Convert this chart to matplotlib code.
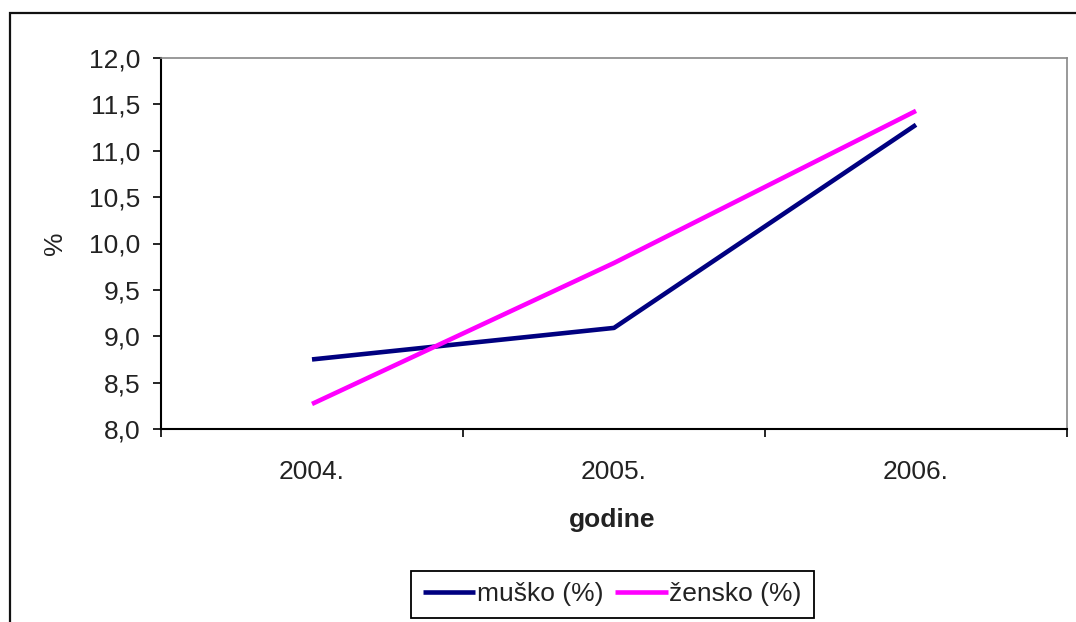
import matplotlib
matplotlib.use("Agg")
import matplotlib.pyplot as plt
from matplotlib.patches import Rectangle
from matplotlib.ticker import FuncFormatter, FixedLocator

plt.rcParams['font.family'] = ['Liberation Sans', 'DejaVu Sans']

# data
years = ['2004.', '2005.', '2006.']
musko = [8.75, 9.09, 11.28]
zensko = [8.27, 9.79, 11.43]

fs = 19

fig = plt.figure(figsize=(10.76, 6.22), dpi=100)
ax = fig.add_axes([161 / 1076, 1 - 429 / 622, 906 / 1076, 371 / 622])

x = list(range(len(years)))
ax.plot(x, musko, color='#000080', lw=3.3, label='muško (%)', solid_capstyle='butt')
ax.plot(x, zensko, color='#FF00FF', lw=3.3, label='žensko (%)', solid_capstyle='butt')

ax.set_xlim(-0.5, len(years) - 0.5)
ax.set_ylim(8.0, 12.0)
ax.set_yticks([8.0 + 0.5 * i for i in range(9)])
ax.yaxis.set_major_formatter(FuncFormatter(lambda v, p: f"{v:.1f}".replace('.', ',')))

# category labels in the middle, tick marks on the bin edges
ax.xaxis.set_major_locator(FixedLocator([i - 0.5 for i in range(len(years) + 1)]))
ax.set_xticklabels([])
ax.set_xticks(x, minor=True)
ax.set_xticklabels(years, minor=True)
ax.tick_params(axis='x', which='major', length=6, width=1.2, color='black', direction='out')
ax.tick_params(axis='x', which='minor', length=0, pad=22, labelsize=fs, labelcolor='#222222')
ax.tick_params(axis='y', length=6, width=1.2, pad=9, labelsize=fs, labelcolor='#222222')

for side in ['top', 'right']:
    ax.spines[side].set_color('#888888')
    ax.spines[side].set_linewidth(1.2)
for side in ['left', 'bottom']:
    ax.spines[side].set_color('black')
    ax.spines[side].set_linewidth(1.5)

ax.set_ylabel('%', fontsize=fs, color='#222222')
ax.yaxis.set_label_coords(-0.104, 0.5)
ax.set_xlabel('godine', fontsize=fs, fontweight='bold', color='#222222')
ax.xaxis.set_label_coords(0.498, -0.212)

leg = ax.legend(loc='center', bbox_to_anchor=(0.498, -0.446), ncol=2, fontsize=fs,
                handlelength=2.0, handletextpad=0.05, columnspacing=0.45,
                borderpad=0.45, fancybox=False, framealpha=1, borderaxespad=0)
leg.get_frame().set_edgecolor('black')
leg.get_frame().set_linewidth(1.3)
for t in leg.get_texts():
    t.set_color('#222222')

# outer chart-area frame, running off the right and bottom edges
fig.patches.append(Rectangle((10 / 1076, -0.1), 1.2, 1.1 - 13 / 622,
                             transform=fig.transFigure, fill=False,
                             edgecolor='#111111', linewidth=1.6))

fig.savefig('out.png', dpi=100)
